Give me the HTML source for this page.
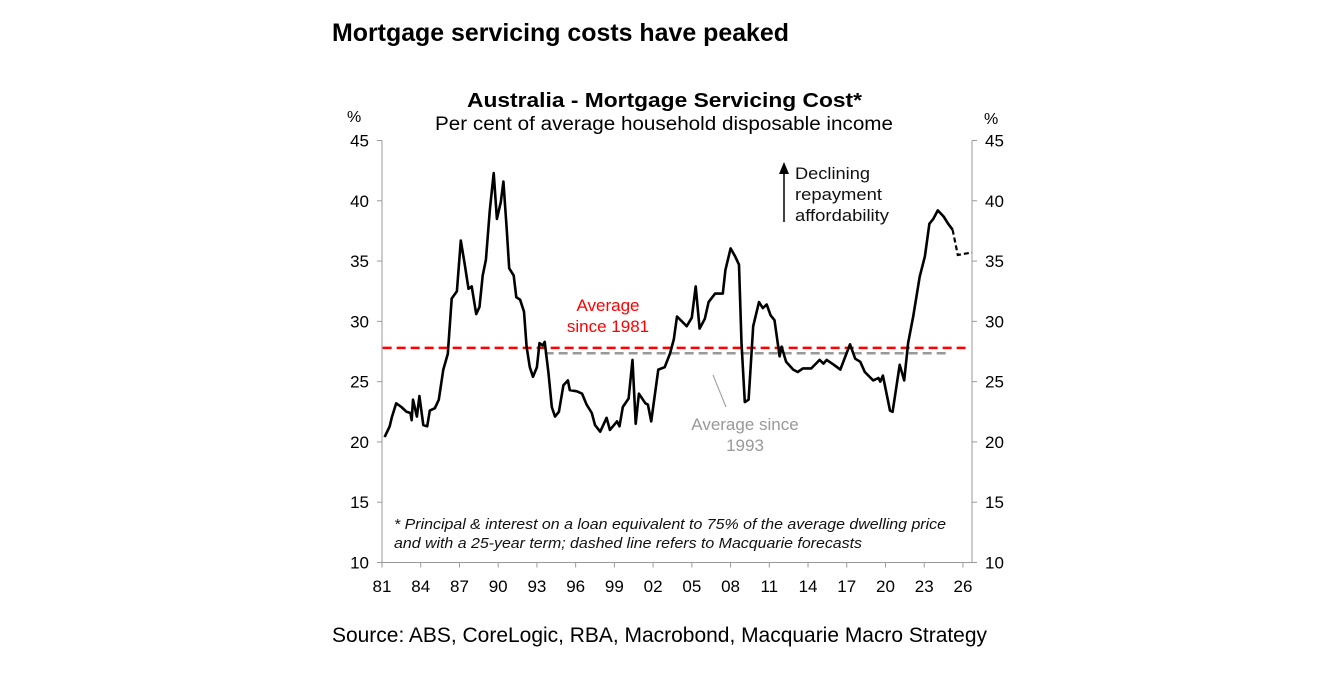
<!DOCTYPE html>
<html><head><meta charset="utf-8"><style>
body{margin:0;background:#fff;width:1322px;height:673px;overflow:hidden}
svg{display:block;font-family:"Liberation Sans",Arial,sans-serif}
</style></head><body>
<svg id="c" width="1322" height="673" viewBox="0 0 1322 673">
<text x="332" y="41" font-size="25" font-weight="bold" textLength="457" lengthAdjust="spacingAndGlyphs">Mortgage servicing costs have peaked</text>
<text x="467" y="107" font-size="20" font-weight="bold" textLength="395" lengthAdjust="spacingAndGlyphs">Australia - Mortgage Servicing Cost*</text>
<text x="435" y="130" font-size="19" textLength="458" lengthAdjust="spacingAndGlyphs">Per cent of average household disposable income</text>
<text x="347" y="122" font-size="16">%</text>
<text x="984" y="124" font-size="16">%</text>
<g id="axes"></g>
<g id="marks"></g>
<line x1="784" y1="222" x2="784" y2="172" stroke="#000" stroke-width="1.5"/>
<polygon points="779,174 789,174 784,162" fill="#000"/>
<text font-size="17" fill="#111"><tspan x="795" y="179" textLength="75" lengthAdjust="spacingAndGlyphs">Declining</tspan><tspan x="795" y="200" textLength="87" lengthAdjust="spacingAndGlyphs">repayment</tspan><tspan x="795" y="221" textLength="94" lengthAdjust="spacingAndGlyphs">affordability</tspan></text>
<text font-size="17" fill="#ff0000" text-anchor="middle"><tspan x="608" y="311">Average</tspan><tspan x="608" y="332">since 1981</tspan></text>
<line x1="713" y1="375" x2="726" y2="407" stroke="#999" stroke-width="1"/>
<text font-size="17" fill="#999" text-anchor="middle"><tspan x="745" y="430">Average since</tspan><tspan x="745" y="451">1993</tspan></text>
<text font-size="15" font-style="italic" fill="#111"><tspan x="394" y="529" textLength="552" lengthAdjust="spacingAndGlyphs">* Principal &amp; interest on a loan equivalent to 75% of the average dwelling price</tspan><tspan x="394" y="548" textLength="468" lengthAdjust="spacingAndGlyphs">and with a 25-year term; dashed line refers to Macquarie forecasts</tspan></text>
<text x="332" y="642" font-size="21" textLength="655" lengthAdjust="spacingAndGlyphs">Source: ABS, CoreLogic, RBA, Macrobond, Macquarie Macro Strategy</text>
</svg>
<script>
const yTicks=[10,15,20,25,30,35,40,45];
const xTickYears=[1981,1984,1987,1990,1993,1996,1999,2002,2005,2008,2011,2014,2017,2020,2023,2026];
const xTickLabels=["81","84","87","90","93","96","99","02","05","08","11","14","17","20","23","26"];
const avg1981=27.8;
const avg1993=27.35;
const actualYears=[1981.2,1981.6,1981.75,1982.1,1982.5,1982.9,1983.2,1983.3,1983.4,1983.7,1983.9,1984.2,1984.5,1984.7,1985.1,1985.4,1985.75,1986.1,1986.4,1986.8,1987.1,1987.4,1987.7,1987.95,1988.3,1988.55,1988.8,1989.05,1989.35,1989.65,1989.9,1990.2,1990.4,1990.65,1990.85,1991.2,1991.4,1991.7,1992.0,1992.2,1992.45,1992.7,1993.0,1993.2,1993.45,1993.6,1993.9,1994.15,1994.4,1994.7,1995.05,1995.4,1995.55,1996.1,1996.5,1996.85,1997.25,1997.5,1997.9,1998.4,1998.65,1999.2,1999.4,1999.65,2000.1,2000.4,2000.65,2000.9,2001.4,2001.6,2001.85,2002.4,2002.9,2003.3,2003.6,2003.85,2004.6,2005.0,2005.3,2005.6,2006.0,2006.3,2006.8,2007.4,2007.6,2008.0,2008.35,2008.65,2008.85,2009.1,2009.4,2009.75,2010.2,2010.5,2010.8,2011.1,2011.4,2011.8,2011.95,2012.3,2012.85,2013.2,2013.6,2014.25,2014.9,2015.2,2015.45,2016.0,2016.5,2017.25,2017.65,2018.05,2018.4,2019.05,2019.45,2019.6,2019.8,2020.35,2020.55,2021.1,2021.45,2021.75,2022.15,2022.65,2023.05,2023.4,2023.7,2024.05,2024.5,2024.85,2025.2];
const actualValues=[20.4,21.3,22.0,23.2,22.9,22.5,22.4,21.8,23.5,22.1,23.8,21.4,21.3,22.6,22.8,23.5,26.0,27.3,31.9,32.5,36.7,34.8,32.7,32.9,30.6,31.2,33.8,35.1,39.2,42.3,38.5,39.9,41.6,37.8,34.4,33.8,32.0,31.8,30.8,27.9,26.2,25.4,26.2,28.2,28.0,28.3,25.7,22.9,22.1,22.5,24.7,25.1,24.3,24.2,24.0,23.1,22.4,21.4,20.85,22.0,21.0,21.7,21.3,22.9,23.6,26.8,21.5,24.0,23.2,23.1,21.7,26.0,26.2,27.3,28.5,30.4,29.6,30.3,32.9,29.4,30.2,31.6,32.3,32.3,34.25,36.05,35.4,34.7,28.2,23.3,23.5,29.6,31.6,31.1,31.4,30.5,30.1,27.1,27.9,26.65,26.0,25.8,26.1,26.1,26.8,26.5,26.8,26.4,26.0,28.1,26.9,26.65,25.8,25.1,25.3,25.0,25.5,22.6,22.5,26.4,25.1,28.2,30.4,33.7,35.4,38.1,38.5,39.2,38.7,38.1,37.6];
const forecastYears=[2025.2,2025.6,2026.1,2026.7];
const forecastValues=[37.6,35.5,35.6,35.7];

const NS="http://www.w3.org/2000/svg";
const X0=382,PX=12.91,Y10=562.5,PY=12.057;
const xs=y=>X0+(y-1981)*PX;
const ys=v=>Y10-(v-10)*PY;
const xL=382,xR=972;
function mk(tag,attrs,parent){const e=document.createElementNS(NS,tag);for(const k in attrs)e.setAttribute(k,attrs[k]);parent.appendChild(e);return e;}
const axes=document.getElementById('axes'),marks=document.getElementById('marks');
let e;
e=mk('line',{x1:xL,y1:ys(45),x2:xL,y2:ys(10),stroke:'#999','stroke-width':1},axes);


e=mk('line',{x1:xR,y1:ys(45),x2:xR,y2:ys(10),stroke:'#999','stroke-width':1},axes);


e=mk('line',{x1:xL,y1:ys(10),x2:xR,y2:ys(10),stroke:'#999','stroke-width':1},axes);


yTicks.forEach(v=>{
  mk('line',{x1:xL-5,y1:ys(v),x2:xL,y2:ys(v),stroke:'#999'},axes);
  mk('line',{x1:xR,y1:ys(v),x2:xR+5,y2:ys(v),stroke:'#999'},axes);
  let t=mk('text',{x:369,y:ys(v)+6,'font-size':17,'text-anchor':'end'},axes);t.textContent=v;
  
  
  t=mk('text',{x:985,y:ys(v)+6,'font-size':17},axes);t.textContent=v;
  
  
});
xTickYears.forEach((yr,i)=>{
  mk('line',{x1:xs(yr),y1:ys(10),x2:xs(yr),y2:ys(10)+5,stroke:'#999'},axes);
  const t=mk('text',{x:xs(yr),y:592,'font-size':17,'text-anchor':'middle'},axes);t.textContent=xTickLabels[i];
  
  
});
e=mk('line',{x1:xs(1981.05),y1:ys(avg1981),x2:xs(2026.2),y2:ys(avg1981),stroke:'#ff0000','stroke-width':2.5,'stroke-dasharray':'9,5'},marks);


e=mk('line',{x1:xs(1993.6),y1:ys(avg1993),x2:xs(2024.9),y2:ys(avg1993),stroke:'#999','stroke-width':2.5,'stroke-dasharray':'9,5'},marks);


const pts=(a,b)=>a.map((y,i)=>xs(y).toFixed(1)+','+ys(b[i]).toFixed(1)).join(' ');
e=mk('polyline',{points:pts(actualYears,actualValues),fill:'none',stroke:'#000','stroke-width':2.6,'stroke-linejoin':'round'},marks);


e=mk('polyline',{points:pts(forecastYears,forecastValues),fill:'none',stroke:'#000','stroke-width':2.2,'stroke-dasharray':'5,3'},marks);


</script>
</body></html>
